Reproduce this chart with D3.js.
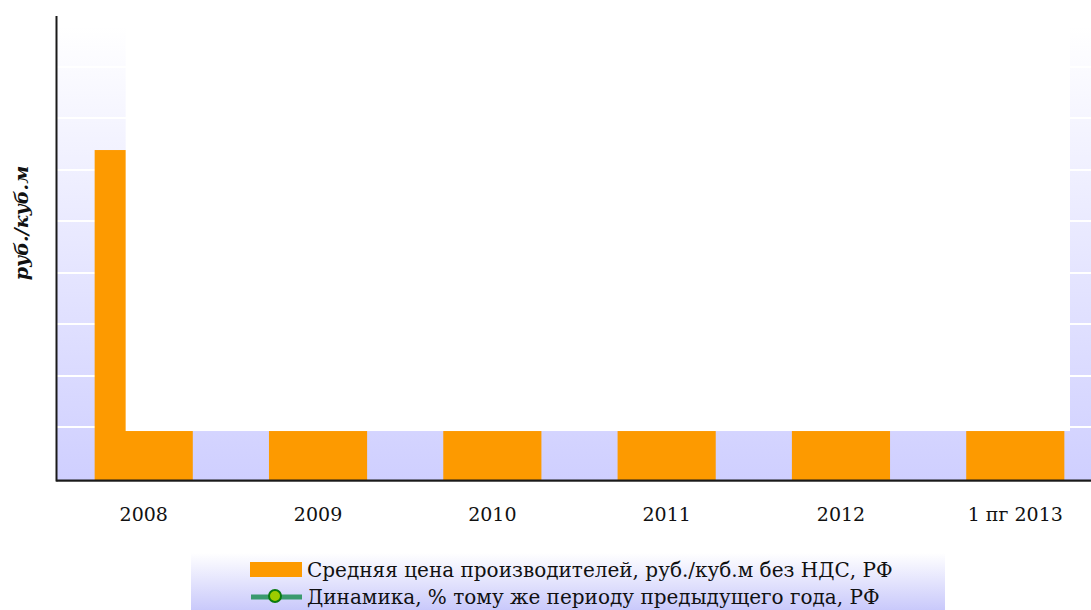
<!DOCTYPE html>
<html>
<head>
<meta charset="utf-8">
<script src="https://cdn.jsdelivr.net/npm/d3@7"></script>
<style>
  body { margin: 0; background: #fff; }
  text { font-family: "DejaVu Serif", serif; fill: #111; }
</style>
</head>
<body>
<div id="chart"></div>
<script>
// categories and values
const categories = ["2008", "2009", "2010", "2011", "2012", "1 пг 2013"];
const priceValues = [640, 95, 95, 95, 95, 95];
const dynamicsValues = [null, null, null, null, null, null];
const yTicks = [0, 100, 200, 300, 400, 500, 600, 700, 800, 900];
const legendLabels = [
    "Средняя цена производителей, руб./куб.м без НДС, РФ",
    "Динамика, % тому же периоду предыдущего года, РФ"
];

const width = 1091, height = 610;
const plot = {left: 57, top: 16, right: 1102, bottom: 480};

const svg = d3.select("#chart").append("svg")
    .attr("width", width)
    .attr("height", height);

const defs = svg.append("defs");
const bgGrad = defs.append("linearGradient")
    .attr("id", "bgGrad").attr("x1", 0).attr("y1", 0).attr("x2", 0).attr("y2", 1);
bgGrad.append("stop").attr("offset", "0%").attr("stop-color", "#ffffff");
bgGrad.append("stop").attr("offset", "100%").attr("stop-color", "#cfcfff");

const legGrad = defs.append("linearGradient")
    .attr("id", "legGrad").attr("x1", 0).attr("y1", 0).attr("x2", 0).attr("y2", 1);
legGrad.append("stop").attr("offset", "0%").attr("stop-color", "#ffffff");
legGrad.append("stop").attr("offset", "100%").attr("stop-color", "#c9c9fb");

let xScale = d3.scaleBand()
    .domain(categories)
    .range([plot.left, plot.right])
    .paddingInner(0.437)
    .paddingOuter(0.216);

let yScale = d3.scaleLinear()
    .domain([0, 900])
    .range([plot.bottom, plot.top]);

// plot background
svg.append("rect")
    .attr("x", plot.left)
    .attr("y", yScale(900) + 10)
    .attr("width", plot.right - plot.left)
    .attr("height", plot.bottom - yScale(900) - 10)
    .attr("fill", "url(#bgGrad)");

// grid lines
svg.append("g").attr("class", "grid")
    .selectAll("line")
    .data(yTicks.slice(1))
    .join("line")
    .attr("x1", plot.left)
    .attr("x2", plot.right)
    .attr("y1", d => Math.round(yScale(d)) - 1)
    .attr("y2", d => Math.round(yScale(d)) - 1)
    .attr("stroke", "#ffffff")
    .attr("stroke-width", 2);

// bars
svg.append("g").attr("class", "bars")
    .selectAll("rect")
    .data(priceValues)
    .join("rect")
    .attr("x", (d, i) => xScale(categories[i]))
    .attr("y", d => yScale(d))
    .attr("width", xScale.bandwidth())
    .attr("height", d => plot.bottom - yScale(d))
    .attr("fill", "#fd9a00");

// white patch over the plot area, as in the source image
const patchLeft = xScale(categories[0]) + 31;
svg.append("rect")
    .attr("x", patchLeft)
    .attr("y", 0)
    .attr("width", 1070 - patchLeft)
    .attr("height", yScale(95))
    .attr("fill", "#ffffff");

// dynamics line (no visible points)
const line = d3.line()
    .defined(d => d != null)
    .x((d, i) => xScale(categories[i]) + xScale.bandwidth() / 2)
    .y(d => yScale(d));
svg.append("path")
    .datum(dynamicsValues)
    .attr("d", line)
    .attr("fill", "none")
    .attr("stroke", "#3a9a6e")
    .attr("stroke-width", 5);

// axes
let xAxis = svg.append("g")
    .attr("class", "axis_x")
    .attr("transform", "translate(0," + plot.bottom + ")")
    .call(d3.axisBottom(xScale).tickSize(0).tickPadding(28));
xAxis.attr("font-family", null).attr("font-size", null);
xAxis.select(".domain").remove();
xAxis.selectAll("text")
    .style("font-size", "19px")
    .style("font-family", "'DejaVu Serif', serif")
    .attr("fill", "#111");

svg.append("line")
    .attr("x1", plot.left).attr("x2", width)
    .attr("y1", plot.bottom + 1.5).attr("y2", plot.bottom + 1.5)
    .attr("stroke", "#999").attr("stroke-width", 1);
svg.append("line")
    .attr("x1", plot.left - 1).attr("x2", width)
    .attr("y1", plot.bottom + 0.5).attr("y2", plot.bottom + 0.5)
    .attr("stroke", "#1a1a1a").attr("stroke-width", 2);
svg.append("line")
    .attr("x1", plot.left - 0.5).attr("x2", plot.left - 0.5)
    .attr("y1", plot.top).attr("y2", plot.bottom + 1.5)
    .attr("stroke", "#1a1a1a").attr("stroke-width", 2);

// y title
svg.append("text")
    .attr("transform", "translate(28,223) rotate(-90)")
    .attr("text-anchor", "middle")
    .style("font-size", "19px")
    .style("font-weight", "bold")
    .style("font-style", "italic")
    .text("руб./куб.м");

// legend
const legend = svg.append("g").attr("class", "legend");
legend.append("rect")
    .attr("x", 191).attr("y", 553)
    .attr("width", 754).attr("height", 57)
    .attr("fill", "url(#legGrad)");
legend.append("rect")
    .attr("x", 250).attr("y", 562)
    .attr("width", 52).attr("height", 15)
    .attr("fill", "#fd9a00");
legend.append("line")
    .attr("x1", 251).attr("x2", 302)
    .attr("y1", 597).attr("y2", 597)
    .attr("stroke", "#3a9a6e").attr("stroke-width", 5);
legend.append("circle")
    .attr("cx", 275).attr("cy", 596).attr("r", 6)
    .attr("fill", "#9ccc00")
    .attr("stroke", "#0b7a10").attr("stroke-width", 2);
legend.selectAll("text.lbl")
    .data(legendLabels)
    .join("text")
    .attr("class", "lbl")
    .attr("x", 307)
    .attr("y", (d, i) => 577 + i * 27)
    .style("font-size", "20px")
    .text(d => d);
</script>
</body>
</html>
